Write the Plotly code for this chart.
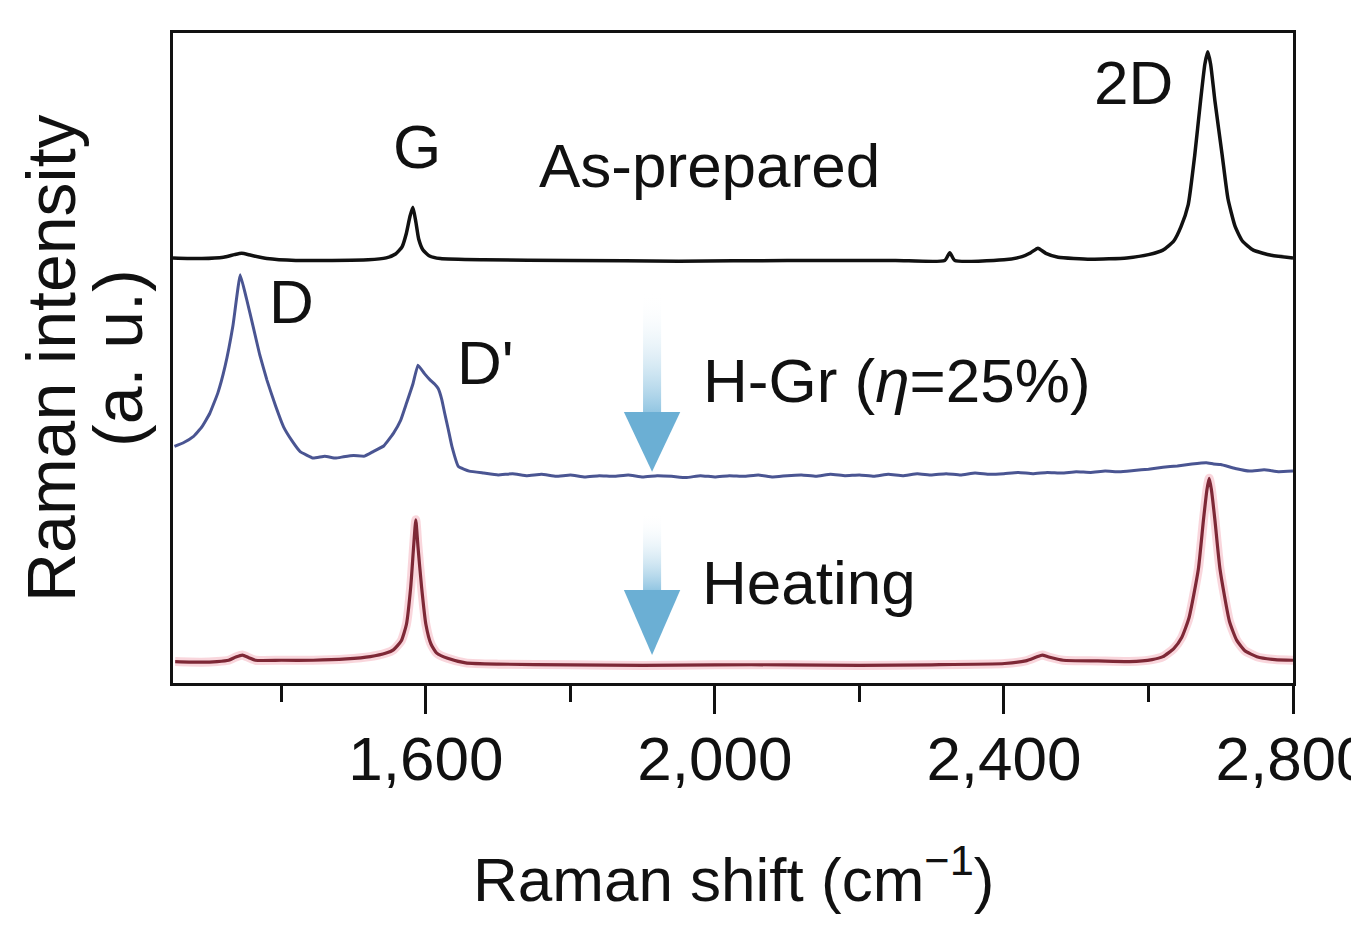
import plotly.graph_objects as go

# ---------------- data ----------------
# Raman shift (cm^-1) and intensity (a.u., stacked offsets in a 0-100 frame)
asprep_x = [1250, 1290, 1320, 1335, 1345, 1358, 1380, 1420, 1470, 1520, 1545, 1558, 1567,
            1573, 1578, 1582, 1586, 1590, 1596, 1605, 1620, 1680, 1800, 1950, 2100, 2250,
            2318, 2325, 2332, 2400, 2425, 2437, 2447, 2458, 2475, 2520, 2570, 2600, 2620,
            2635, 2645, 2655, 2664, 2672, 2678, 2682, 2686, 2692, 2702, 2710, 2720, 2730,
            2745, 2770, 2800]
asprep_y = [65.4, 65.3, 65.5, 65.9, 66.1, 65.8, 65.3, 65.0, 65.0, 65.1, 65.4, 66.0, 67.1,
            69.2, 71.8, 73.2, 71.0, 68.3, 66.6, 65.7, 65.3, 65.1, 65.0, 64.9, 65.0, 65.0,
            65.0, 66.2, 65.0, 65.1, 65.6, 66.2, 66.9, 66.1, 65.5, 65.2, 65.4, 65.9, 66.6,
            68.0, 70.2, 73.6, 81.2, 89.5, 95.2, 97.1, 95.2, 89.5, 81.2, 74.5, 70.2, 68.0,
            66.6, 65.8, 65.4]

hgr_x = [1252, 1265, 1278, 1290, 1301, 1312, 1322, 1333, 1343, 1352, 1361, 1370, 1380, 1392,
         1403, 1415, 1426, 1444, 1460, 1475, 1486, 1500, 1515, 1527, 1542, 1555, 1565, 1573,
         1582, 1589, 1598, 1606, 1612, 1617, 1622, 1626, 1631, 1636, 1645, 1660, 1680, 1700,
         1720, 1740, 1760, 1780, 1800, 1820, 1840, 1860, 1880, 1900, 1920, 1940, 1960, 1980,
         2000, 2020, 2040, 2060, 2080, 2100, 2120, 2140, 2160, 2180, 2200, 2220, 2240, 2260,
         2280, 2300, 2320, 2340, 2360, 2380, 2400, 2420, 2440, 2460, 2480, 2500, 2520, 2540,
         2560, 2580, 2600, 2620, 2640, 2660, 2680, 2690, 2700, 2720, 2740, 2760, 2780, 2800]
hgr_y = [36.4, 37.0, 37.9, 39.4, 41.5, 44.6, 48.7, 55.0, 62.8, 59.0, 54.8, 50.5, 46.6, 42.6,
         39.4, 37.2, 35.6, 34.6, 34.9, 34.6, 34.8, 35.0, 34.9, 35.6, 36.5, 38.4, 40.4, 43.0,
         46.0, 48.9, 47.6, 46.6, 46.0, 45.3, 43.6, 41.5, 39.0, 36.4, 33.3, 32.6, 32.3, 32.0,
         32.2, 31.9, 32.1, 31.8, 32.0, 31.7, 31.9, 31.8, 32.0, 31.7, 31.9, 31.8, 31.6, 31.9,
         31.7, 31.9, 31.8, 32.0, 31.7, 31.9, 32.0, 31.8, 32.1, 31.9, 32.0, 31.8, 32.1, 31.9,
         32.2, 32.0, 32.2, 32.0, 32.3, 32.1, 32.2, 32.4, 32.2, 32.4, 32.3, 32.5, 32.4, 32.6,
         32.5, 32.7, 32.9, 33.2, 33.4, 33.7, 33.9, 33.7, 33.6, 33.0, 32.6, 32.8, 32.5, 32.6]

heat_x = [1253, 1290, 1311, 1327, 1337, 1346, 1355, 1364, 1400, 1444, 1490, 1523, 1545, 1555,
          1566, 1573, 1579, 1583, 1586, 1589, 1594, 1600, 1607, 1615, 1630, 1655, 1700, 1800,
          1900, 2000, 2100, 2200, 2300, 2401, 2430, 2445, 2453, 2462, 2482, 2530, 2574, 2605,
          2620, 2635, 2646, 2656, 2669, 2676, 2681, 2684, 2687, 2692, 2699, 2712, 2722, 2733,
          2750, 2775, 2800]
heat_y = [3.3, 3.2, 3.3, 3.5, 4.0, 4.3, 3.9, 3.5, 3.5, 3.5, 3.7, 4.05, 4.6, 5.1,
          6.5, 9.0, 14.8, 21.0, 25.1, 21.0, 14.8, 9.0, 6.0, 4.6, 3.8, 3.1, 2.9, 2.8,
          2.7, 2.8, 2.8, 2.7, 2.8, 3.0, 3.4, 4.0, 4.3, 4.0, 3.5, 3.4, 3.3, 3.6,
          4.05, 5.3, 7.0, 10.0, 17.5, 25.0, 29.8, 31.5, 29.8, 25.0, 17.5, 9.5, 6.6, 5.0,
          4.05, 3.6, 3.5]

x_ticks = [1600, 2000, 2400, 2800]
x_minor = [1400, 1800, 2200, 2600]
x_range = [1250, 2800]
y_range = [0, 100]

# arrows: centre x, shaft top, head top, tip (axis units)
arrows = [(1913, 60.0, 41.7, 32.5), (1913, 26.2, 14.3, 4.3)]
arrow_half_shaft = 12.5
arrow_half_head = 39

FONT = "Liberation Sans Narrow, Arial Narrow, Liberation Sans, Arial, sans-serif"
FS = 62

fig = go.Figure()

# arrows (drawn first, below spectra)
for (ax, top, htop, tip) in arrows:
    fig.add_trace(go.Scatter(
        x=[ax - arrow_half_shaft, ax + arrow_half_shaft, ax + arrow_half_shaft, ax - arrow_half_shaft, ax - arrow_half_shaft],
        y=[htop, htop, top, top, htop], mode="none", fill="toself",
        fillgradient=dict(type="vertical", colorscale=[[0, "#93c6e2"], [1, "rgba(255,255,255,0)"]]),
        hoverinfo="skip", showlegend=False))
    fig.add_trace(go.Scatter(
        x=[ax - arrow_half_head, ax + arrow_half_head, ax, ax - arrow_half_head],
        y=[htop, htop, tip, htop], mode="none", fill="toself", fillcolor="#6bafd4",
        hoverinfo="skip", showlegend=False))

# heating (red with pink glow)
fig.add_trace(go.Scatter(x=heat_x, y=heat_y, mode="lines",
                         line=dict(color="rgba(235,120,140,0.30)", width=9, shape="spline", smoothing=0.5),
                         hoverinfo="skip", showlegend=False))
fig.add_trace(go.Scatter(x=heat_x, y=heat_y, mode="lines", name="Heating",
                         line=dict(color="#7e2836", width=3.2, shape="spline", smoothing=0.5),
                         showlegend=False))
# H-Gr (blue)
fig.add_trace(go.Scatter(x=hgr_x, y=hgr_y, mode="lines", name="H-Gr",
                         line=dict(color="#4a5592", width=3, shape="spline", smoothing=0.3),
                         showlegend=False))
# As-prepared (black)
fig.add_trace(go.Scatter(x=asprep_x, y=asprep_y, mode="lines", name="As-prepared",
                         line=dict(color="#111111", width=3.5, shape="spline", smoothing=0.5),
                         showlegend=False))

# text, x (cm-1), y, anchor
labels = [
    ("G", 1588, 82.6, "center"),
    ("As-prepared", 1754, 79.6, "left"),
    ("2D", 2637, 92.4, "right"),
    ("D", 1380, 58.7, "left"),
    ("D'", 1640, 49.3, "left"),
    ("H-Gr (<i>η</i>=25%)", 1981, 46.6, "left"),
    ("Heating", 1979, 15.5, "left"),
]
for txt, lx, ly, anc in labels:
    fig.add_annotation(x=lx, y=ly, text=txt, showarrow=False, xanchor=anc, yanchor="middle",
                       font=dict(family=FONT, size=FS, color="#111111"))

# axis titles
fig.add_annotation(xref="paper", yref="paper", x=0.5, y=0, yshift=-192, text="Raman shift (cm<sup>−1</sup>)",
                   showarrow=False, xanchor="center", yanchor="middle",
                   font=dict(family=FONT, size=FS, color="#111111"))
fig.add_annotation(xref="paper", yref="paper", x=0, y=0.5, xshift=-122, text="Raman intensity",
                   textangle=-90, showarrow=False, xanchor="center", yanchor="middle",
                   font=dict(family=FONT, size=68, color="#111111"))
fig.add_annotation(xref="paper", yref="paper", x=0, y=0.5, xshift=-55, text="(a. u.)",
                   textangle=-90, showarrow=False, xanchor="center", yanchor="middle",
                   font=dict(family=FONT, size=68, color="#111111"))

fig.update_layout(
    width=1351, height=927,
    margin=dict(l=173, r=58, t=33, b=244, autoexpand=False),
    paper_bgcolor="white", plot_bgcolor="white",
    showlegend=False,
)
fig.update_xaxes(range=x_range, showgrid=False, zeroline=False, showline=True, linewidth=3,
                 linecolor="#111111", mirror=True, ticks="outside", ticklen=28, tickwidth=3,
                 tickcolor="#111111", tickvals=x_ticks, ticktext=[f"{v:,}" for v in x_ticks],
                 tickfont=dict(family=FONT, size=FS, color="#111111"), ticklabelstandoff=-8,
                 ticklabeloverflow="allow",
                 minor=dict(tickvals=x_minor, ticks="outside", ticklen=16, tickwidth=3, tickcolor="#111111"),
                 automargin=False)
fig.update_yaxes(range=y_range, showgrid=False, zeroline=False, showline=True, linewidth=3,
                 linecolor="#111111", mirror=True, ticks="", showticklabels=False, automargin=False)

fig.write_html("out.html")
